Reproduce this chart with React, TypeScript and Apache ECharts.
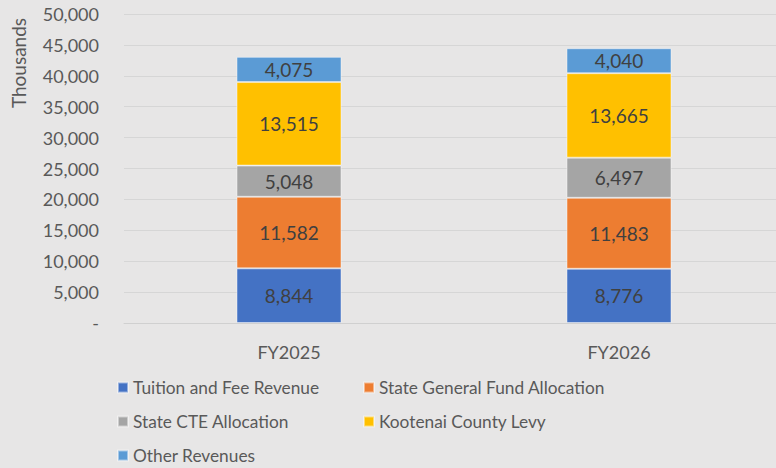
import React, { useEffect, useRef } from "react";
import * as echarts from "echarts";

const categories = ["FY2025", "FY2026"];
const seriesNames = [
  "Tuition and Fee Revenue",
  "State General Fund Allocation",
  "State CTE Allocation",
  "Kootenai County Levy",
  "Other Revenues",
];
const tuition = [8844, 8776];
const stateGeneral = [11582, 11483];
const stateCTE = [5048, 6497];
const kootenai = [13515, 13665];
const other = [4075, 4040];
const colors = ["#4472C4", "#ED7D31", "#A5A5A5", "#FFC000", "#5B9BD5"];

const FONT = "Lato, 'Open Sans', sans-serif";

export default function App() {
  const ref = useRef<HTMLDivElement>(null);
  useEffect(() => {
    if (!ref.current) return;
    const chart = echarts.init(ref.current, null, { renderer: "svg" });
    const values = [tuition, stateGeneral, stateCTE, kootenai, other];
    const fmt = (v: number) => v.toLocaleString("en-US");
    const legendCommon = {
      top: 379,
      orient: "vertical",
      itemWidth: 10,
      itemHeight: 10,
      itemGap: 17,
      icon: "rect",
      textStyle: { fontFamily: FONT, fontSize: 17.3, color: "#595959" },
      padding: 0,
    };
    chart.setOption({
      animation: false,
      backgroundColor: "#E7E6E6",
      textStyle: { fontFamily: FONT },
      grid: { left: 124, top: 14, width: 660, height: 309, containLabel: false, outerBoundsMode: "none" },
      legend: [
        { ...legendCommon, left: 117, data: [seriesNames[0], seriesNames[2], seriesNames[4]] },
        { ...legendCommon, left: 363, data: [seriesNames[1], seriesNames[3]] },
      ],
      xAxis: {
        type: "category",
        data: categories,
        axisLine: { show: true, lineStyle: { color: "#D0D0D0" } },
        axisTick: { show: false },
        axisLabel: { fontFamily: FONT, fontSize: 18, color: "#595959", margin: 20 },
      },
      yAxis: {
        type: "value",
        min: 0,
        max: 50000,
        interval: 5000,
        axisLine: { show: false },
        axisTick: { show: false },
        splitLine: { lineStyle: { color: "#D6D6D6" } },
        axisLabel: {
          fontFamily: FONT,
          fontSize: 18,
          color: "#595959",
          margin: 25,
          formatter: (v: number) => (v === 0 ? "-" : fmt(v)),
        },
      },
      graphic: [
        {
          type: "text",
          x: 18,
          y: 63,
          rotation: Math.PI / 2,
          style: {
            text: "Thousands",
            fontFamily: FONT,
            fontSize: 19,
            fill: "#595959",
            textAlign: "center",
            textVerticalAlign: "middle",
          },
        },
      ],
      series: seriesNames.map((name, i) => ({
        name,
        type: "bar",
        stack: "total",
        barWidth: 105,
        data: values[i],
        itemStyle: { color: colors[i], borderColor: "rgba(255,255,255,0.45)", borderWidth: 1 },
        label: {
          show: true,
          position: "inside",
          fontFamily: FONT,
          fontSize: 19,
          color: "#404040",
          formatter: (p: any) => fmt(p.value),
        },
      })),
    });
    return () => chart.dispose();
  }, []);
  return <div ref={ref} style={{ width: 776, height: 468, position: "absolute", left: 0, top: 0 }} />;
}
